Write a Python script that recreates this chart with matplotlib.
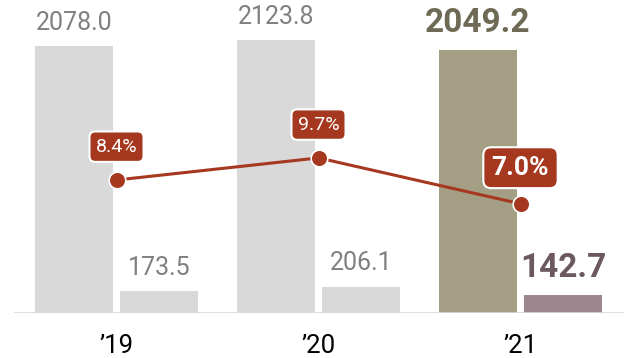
import matplotlib.pyplot as plt
import numpy as np

plt.rcParams['font.family'] = ['Roboto', 'DejaVu Sans']

# data
years = ["\u201919", "\u201920", "\u201921"]
sales = [2078.0, 2123.8, 2049.2]
profit = [173.5, 206.1, 142.7]
margin = [8.4, 9.7, 7.0]

gray = '#d9d9d9'
olive = '#a39e84'
mauve = '#9e868e'
red = '#a5381f'
txt_gray = '#808080'
txt_olive = '#6e6a55'
txt_mauve = '#6b5860'

fig = plt.figure(figsize=(6.25, 3.58), dpi=100)
ax = fig.add_axes([0, 45 / 358, 1, 313 / 358])

x = np.arange(len(years))
w = 0.386
off = 0.21

big_colors = [gray, gray, olive]
small_colors = [gray, gray, mauve]
ax.bar(x - off, sales, width=w, color=big_colors, zorder=2)
ax.bar(x + off, profit, width=w, color=small_colors, zorder=2)

for i in range(len(years)):
    last = i == len(years) - 1
    ax.annotate(f"{sales[i]:.1f}", (x[i] - off, sales[i]), xytext=(0, 8),
                textcoords='offset points', ha='center', va='bottom',
                fontsize=24 if last else 18, fontweight='bold' if last else 'normal',
                color=txt_olive if last else txt_gray)
    ax.annotate(f"{profit[i]:.1f}", (x[i] + off, profit[i]), xytext=(0, 8),
                textcoords='offset points', ha='center', va='bottom',
                fontsize=24 if last else 18, fontweight='bold' if last else 'normal',
                color=txt_mauve if last else txt_gray)

ax.set_xlim(-116.5 / 202, (625 - 116.5) / 202)
ax.set_ylim(0, 313 / 0.1285)
ax.axhline(0, xmin=15 / 625, xmax=623 / 625, color=gray, lw=1.2, zorder=3)
for s in ax.spines.values():
    s.set_visible(False)
ax.set_yticks([])
ax.set_xticks(x)
ax.set_xticklabels(years, fontsize=18.5)
ax.tick_params(axis='x', length=0, pad=15, colors='black')

ax2 = ax.twinx()
ax2.set_ylim(0.576, 18.99)
ax2.axis('off')
ax2.plot(x, margin, color=red, lw=2.2, marker='o', ms=12, mfc=red, mec='white',
         mew=1.2, zorder=4)
for i in range(len(years)):
    last = i == len(years) - 1
    ax2.annotate(f"{margin[i]:.1f}%", (x[i], margin[i]), xytext=(0, 26 if last else 24),
                 textcoords='offset points', ha='center', va='center',
                 fontsize=19 if last else 14, fontweight='bold' if last else 'normal',
                 color='white', zorder=5,
                 bbox=dict(boxstyle='round,pad=0.32,rounding_size=0.3', fc=red,
                           ec='white', lw=1.5))

fig.savefig('out.png', dpi=100)
